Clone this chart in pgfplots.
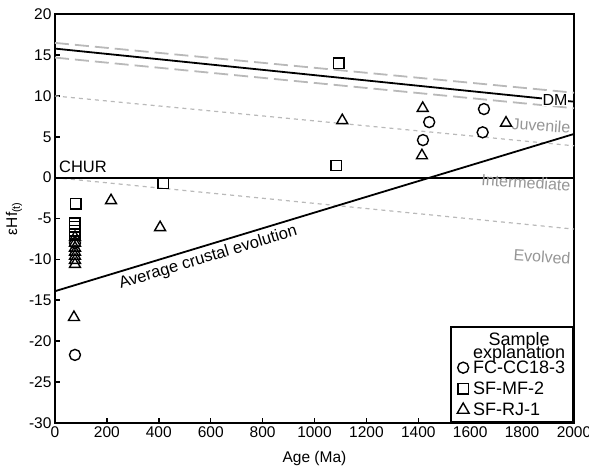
\documentclass[border=0pt]{standalone}
\usepackage{fontspec}
\setmainfont{Liberation Sans}
\usepackage{pgfplots}
\pgfplotsset{compat=1.18}
\definecolor{lgray}{RGB}{185,185,185}
\definecolor{tgray}{RGB}{150,150,150}
\begin{document}
\begin{tikzpicture}
\useasboundingbox (-55pt,-50.3pt) rectangle (534pt,422.7pt);
\begin{axis}[
    scale only axis,
    width=519pt, height=408.4pt,
    xmin=0, xmax=2000, ymin=-30, ymax=20,
    xtick={0,200,...,2000}, ytick={-30,-25,...,20},
    tick pos=left, tick align=inside,
    major tick length=5pt,
    axis line style={line width=2pt},
    every tick/.style={line width=1.4pt, black},
    tick label style={font=\fontsize{15.5}{16}\selectfont},
    /pgf/number format/assume math mode=true,
    /pgf/number format/set thousands separator={},
    xlabel={Age (Ma)},
    ylabel={εHf\textsubscript{(t)}},
    xlabel shift=7pt,
    label style={font=\fontsize{15.5}{16}\selectfont},
    legend style={at={(1,0)}, anchor=south east, draw=black, line width=1.7pt,
        font=\fontsize{18}{15}\selectfont, row sep=3pt, column sep=2pt,
        inner xsep=6pt, inner ysep=3pt},
    legend cell align=left,
    legend image code/.code={\draw[#1] plot coordinates {(0pt,0pt)};},
]
% reference lines
\addplot[forget plot, lgray, line width=1.8pt, dash pattern=on 14pt off 6pt] coordinates {(0,16.5) (2000,10.4)};
\addplot[forget plot, lgray, line width=1.8pt, dash pattern=on 14pt off 6pt] coordinates {(0,14.7) (2000,8.5)};
\addplot[forget plot, black, line width=1.8pt] coordinates {(0,15.8) (2000,9.3)};
\addplot[forget plot, lgray, line width=1.2pt, dash pattern=on 4pt off 4pt] coordinates {(0,10) (2000,3.9)};
\addplot[forget plot, lgray, line width=1.2pt, dash pattern=on 4pt off 4pt] coordinates {(0,0) (2000,-6.3)};
\addplot[forget plot, black, line width=1.8pt] coordinates {(0,0) (2000,0)};
\addplot[forget plot, black, line width=1.8pt] coordinates {(0,-13.9) (2000,5.35)};

% legend images
\addlegendimage{empty legend}
\addlegendimage{only marks, mark=o, mark size=5.5pt, line width=1.4pt, mark options={fill=white}}
\addlegendimage{only marks, mark=square, mark size=5.2pt, line width=1.4pt, mark options={fill=white}}
\addlegendimage{only marks, mark=triangle, mark size=6.8pt, line width=1.4pt, mark options={fill=white}}

% SF-RJ-1
\addplot[forget plot, only marks, mark=triangle, mark size=6.3pt, line width=1.4pt, mark options={fill=white}] coordinates {
(1107,7.0) (1417,8.5) (1414,2.7) (1738,6.7) (216,-2.8) (405,-6.1) (73,-17.1)
(77,-7.3) (77,-8.0) (77,-8.6) (77,-9.1) (77,-9.6) (77,-10.1) (77,-10.6)};
% SF-MF-2
\addplot[forget plot, only marks, mark=square, mark size=5.2pt, line width=1.4pt, mark options={fill=white}] coordinates {
(1094,14.0) (1083,1.5) (417,-0.7) (80,-3.2) (77,-5.6) (77,-6.0) (77,-6.5) (77,-7.0)};
% FC-CC18-3
\addplot[forget plot, only marks, mark=o, mark size=5.5pt, line width=1.4pt, mark options={fill=white}] coordinates {
(77,-21.7) (77,-8.0) (1418,4.6) (1442,6.8) (1648,5.55) (1653,8.4)};

\legend{{\begin{tabular}{@{}c@{}}Sample\\[-4pt]explanation\end{tabular}}, FC-CC18-3, SF-MF-2, SF-RJ-1}

% labels
\node[anchor=west, inner sep=0pt, font=\fontsize{16.5}{16}\selectfont] at (axis cs:15,1.3) {CHUR};
\node[fill=white, inner sep=0.8pt, font=\fontsize{16}{16}\selectfont] at (axis cs:1927,9.5) {DM};
\node[text=tgray, rotate=-4, font=\fontsize{16}{16}\selectfont] at (axis cs:1873,6.4) {Juvenile};
\node[text=tgray, rotate=-4, font=\fontsize{16}{16}\selectfont] at (axis cs:1815,-0.6) {Intermediate};
\node[text=tgray, rotate=-4, font=\fontsize{16}{16}\selectfont] at (axis cs:1877,-9.7) {Evolved};
\node[rotate=16.8, font=\fontsize{16.5}{16}\selectfont] at (axis cs:590,-9.8) {Average crustal evolution};
\end{axis}
\end{tikzpicture}
\end{document}
